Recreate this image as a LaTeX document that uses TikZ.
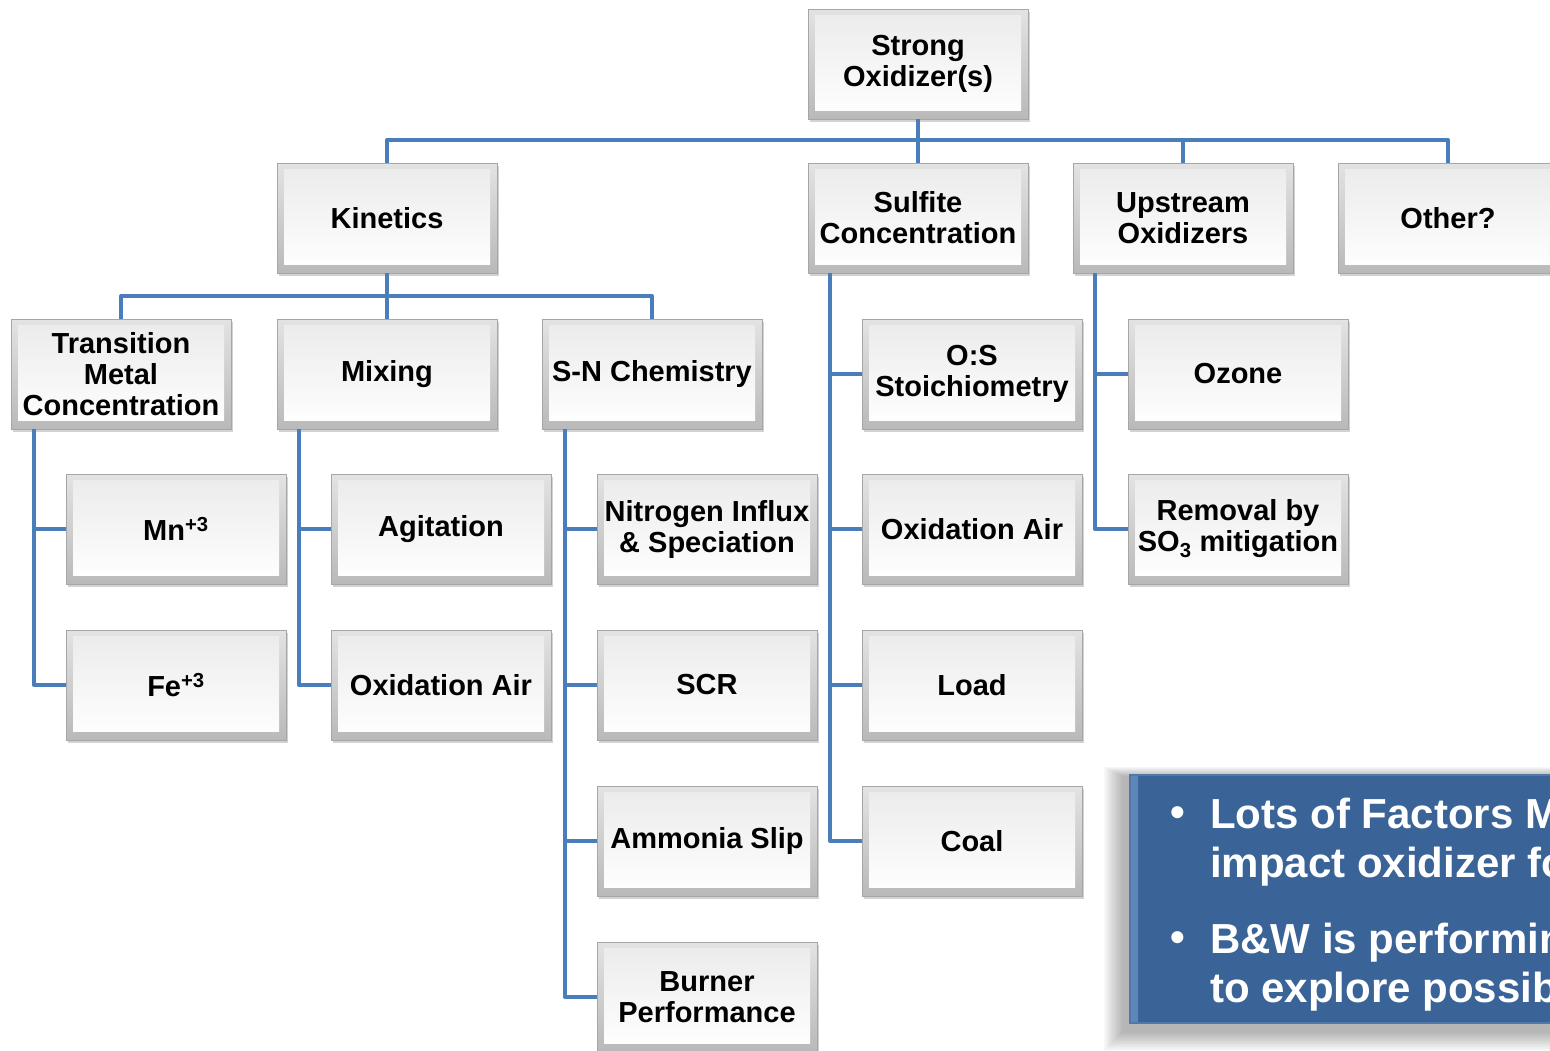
\documentclass[tikz,border=0pt]{standalone}
\usepackage{fontspec}
\setmainfont{Liberation Sans}
\usetikzlibrary{shadows}
\definecolor{lineblue}{HTML}{4A7EBB}
\definecolor{boxblue}{HTML}{3A6497}
\definecolor{boxblueL}{HTML}{5F86B8}
\tikzset{
  gbox/.style={rectangle, minimum width=220pt, minimum height=110pt,
    inner sep=0pt, outer sep=0pt, draw=gray!70, line width=0.8pt,
    top color=gray!22, bottom color=gray!55,
    drop shadow={shadow xshift=2pt, shadow yshift=-3pt, opacity=.35},
    font=\fontsize{29}{31}\selectfont\bfseries, align=center, text=black,
    path picture={\shade[top color=gray!16, middle color=gray!3, bottom color=white]
      ([xshift=7pt,yshift=-6pt]path picture bounding box.north west) rectangle
      ([xshift=-7pt,yshift=9pt]path picture bounding box.south east);}},
  conn/.style={draw=lineblue, line width=4pt, line join=round},
  wtext/.style={anchor=base west, text=white, inner sep=0pt,
    font=\fontsize{42}{50}\selectfont\bfseries},
  wbullet/.style={anchor=base west, text=white, inner sep=0pt,
    font=\fontsize{42}{42}\selectfont\bfseries}
}
\begin{document}
\begin{tikzpicture}[x=1pt,y=-1pt]
\useasboundingbox (0,0) rectangle (1550,1050);
\clip (0,0) rectangle (1550,1050);
\fill[white] (0,0) rectangle (1550,1050);

% nodes
\node[gbox] (top) at (918,64) {Strong\\Oxidizer(s)};
\node[gbox] (kin) at (387,218) {Kinetics};
\node[gbox] (sul) at (918,218) {Sulfite\\Concentration};
\node[gbox] (up) at (1183,218) {Upstream\\Oxidizers};
\node[gbox] (oth) at (1448,218) {Other?};

\node[gbox] (tm) at (121,374) {Transition\\Metal\\Concentration};
\node[gbox] (mix) at (387,374) {Mixing};
\node[gbox] (sn) at (652,374) {S-N Chemistry};
\node[gbox] (os) at (972,374) {O:S\\Stoichiometry};
\node[gbox] (oz) at (1238,374) {Ozone};

\node[gbox] (mn) at (176,529) {Mn\textsuperscript{+3}};
\node[gbox] (agi) at (441,529) {Agitation};
\node[gbox] (nit) at (707,529) {Nitrogen Influx\\\& Speciation};
\node[gbox] (oxa) at (972,529) {Oxidation Air};
\node[gbox] (rem) at (1238,529) {Removal by\\SO\textsubscript{3} mitigation};

\node[gbox] (fe) at (176,685) {Fe\textsuperscript{+3}};
\node[gbox] (oxb) at (441,685) {Oxidation Air};
\node[gbox] (scr) at (707,685) {SCR};
\node[gbox] (load) at (972,685) {Load};

\node[gbox] (amm) at (707,841) {Ammonia Slip};
\node[gbox] (coal) at (972,841) {Coal};

\node[gbox] (burn) at (707,997) {Burner\\Performance};

% connectors
\coordinate (bar1) at (918,140);
\coordinate (bar2) at (387,296);
\foreach \c in {kin,sul,up,oth}
  \draw[conn] (top.south) |- (\c.north |- bar1) -- (\c.north);
\foreach \c in {tm,mix,sn}
  \draw[conn] (kin.south) |- (\c.north |- bar2) -- (\c.north);

\foreach \c in {mn,fe}
  \draw[conn] ([xshift=23pt]tm.south west) |- (\c.west);
\foreach \c in {agi,oxb}
  \draw[conn] ([xshift=22pt]mix.south west) |- (\c.west);
\foreach \c in {nit,scr,amm,burn}
  \draw[conn] ([xshift=23pt]sn.south west) |- (\c.west);
\foreach \c in {os,oxa,load,coal}
  \draw[conn] ([xshift=22pt]sul.south west) |- (\c.west);
\foreach \c in {oz,rem}
  \draw[conn] ([xshift=22pt]up.south west) |- (\c.west);

% blue note box with soft shadow
\foreach \i in {1,...,10}
  \fill[black, opacity=0.03] (1130-6-2*\i,775+2-\i) rectangle (1600,1023+8+2*\i);
\node[rectangle, anchor=north west, minimum width=470pt, minimum height=248pt,
  inner sep=0pt, outer sep=0pt, fill=boxblue, draw=boxblueL!60!boxblue, line width=1.2pt,
  path picture={\shade[left color=boxblueL, right color=boxblue]
    (path picture bounding box.north west) rectangle
    ([xshift=8pt]path picture bounding box.south west);}]
  (note) at (1130,775) {};

\node[wbullet] (b1) at (1170,826) {•};
\node[wtext] (l1) at (1210,828) {Lots of Factors May};
\node[wtext] (l2) at (1210,877) {impact oxidizer formation};
\node[wbullet] (b2) at (1170,951) {•};
\node[wtext] (l3) at (1210,953) {B\&W is performing tests};
\node[wtext] (l4) at (1210,1002) {to explore possibilities};
\end{tikzpicture}
\end{document}
